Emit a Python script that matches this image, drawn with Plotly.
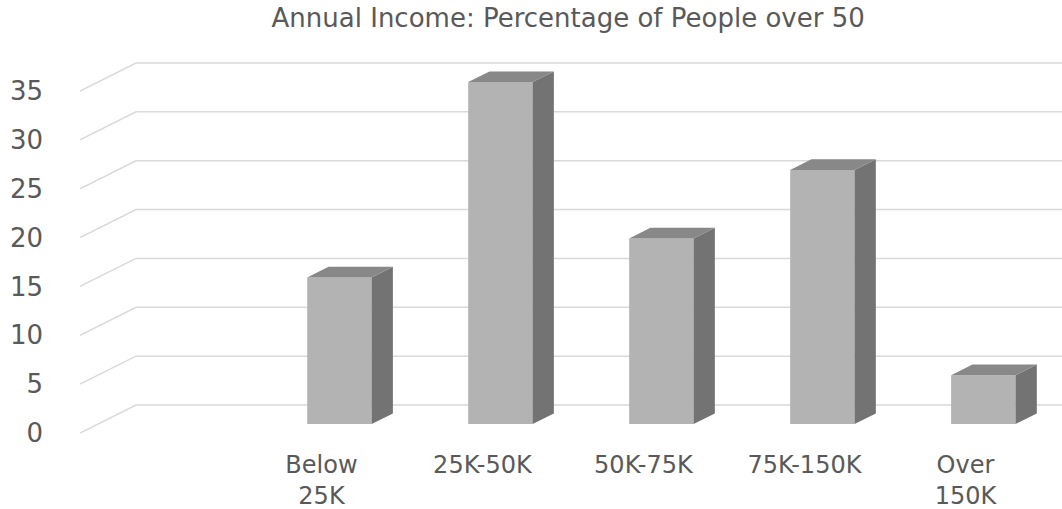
import plotly.graph_objects as go

# ---- data ----
categories = ["", "Below 25K", "25K-50K", "50K-75K", "75K-150K", "Over 150K"]
tick_labels = ["", "Below<br>25K", "25K-50K", "50K-75K", "75K-150K", "Over<br>150K"]
values = [None, 15, 35, 19, 26, 5]
y_ticks = [0, 5, 10, 15, 20, 25, 30, 35]
title_text = "Annual Income: Percentage of People over 50"

# ---- 3D look (style constants) ----
DEPTH_X = 0.348      # full floor depth, in category units
DEPTH_Y = 2.866      # full floor depth, in value units
FRONT, BACK = 0.32, 0.70   # bar depth position as fraction of floor depth
BAR_W = 0.40
X_MAX = 5.6

FRONT_COL = "#b3b3b3"
SIDE_COL = "#737373"
TOP_COL = "#888888"
GRID_COL = "#d9d9d9"
TEXT_COL = "#595959"
FONT = "DejaVu Sans"

xs = list(range(len(categories)))
fig = go.Figure()

# gridlines: slanted from front-left edge to back wall, then horizontal
shapes = []
for v in y_ticks:
    x0, y0 = -0.5, v
    x1, y1 = -0.5 + DEPTH_X, v + DEPTH_Y
    shapes.append(dict(type="path", xref="x", yref="y", layer="below",
                       path=f"M {x0} {y0} L {x1} {y1} L {X_MAX} {y1}",
                       line=dict(color=GRID_COL, width=1.5)))

fx = FRONT * DEPTH_X
fy = FRONT * DEPTH_Y
ddx = (BACK - FRONT) * DEPTH_X
ddy = (BACK - FRONT) * DEPTH_Y

bx = [x + fx for x, v in zip(xs, values) if v is not None]
bv = [v for v in values if v is not None]

# front faces
fig.add_trace(go.Bar(x=bx, y=bv, base=fy, width=BAR_W,
                     marker=dict(color=FRONT_COL, line=dict(width=0)),
                     hoverinfo="skip", showlegend=False))

# side and top faces
for cx, v in zip(bx, bv):
    l, r = cx - BAR_W / 2, cx + BAR_W / 2
    b, t = fy, fy + v
    fig.add_trace(go.Scatter(
        x=[r, r + ddx, r + ddx, r, r], y=[b, b + ddy, t + ddy, t, b],
        fill="toself", fillcolor=SIDE_COL, mode="lines",
        line=dict(width=0, color=SIDE_COL), hoverinfo="skip", showlegend=False))
    fig.add_trace(go.Scatter(
        x=[l, l + ddx, r + ddx, r, l], y=[t, t + ddy, t + ddy, t, t],
        fill="toself", fillcolor=TOP_COL, mode="lines",
        line=dict(width=0, color=TOP_COL), hoverinfo="skip", showlegend=False))

fig.update_layout(
    width=1062, height=509,
    margin=dict(l=80, r=0, t=45, b=69),
    paper_bgcolor="white", plot_bgcolor="rgba(0,0,0,0)",
    shapes=shapes,
    title=dict(text=title_text, x=0.535, xref="container", xanchor="center",
               y=0.965, yref="container", yanchor="middle",
               font=dict(family=FONT, size=26, color=TEXT_COL)),
    xaxis=dict(range=[-0.5, X_MAX], tickvals=xs, ticktext=tick_labels,
               showgrid=False, zeroline=False, showline=False, ticks="",
               ticklabelstandoff=8, automargin=False,
               tickfont=dict(family=FONT, size=24, color=TEXT_COL)),
    yaxis=dict(range=[-0.716, 39.71], tickvals=y_ticks,
               showgrid=False, zeroline=False, showline=False, ticks="",
               ticklabelstandoff=36, automargin=False,
               tickfont=dict(family=FONT, size=26, color=TEXT_COL)),
    showlegend=False,
)

fig.write_html("out.html", config={"displayModeBar": False},
               post_script="document.body.style.margin='0';")
